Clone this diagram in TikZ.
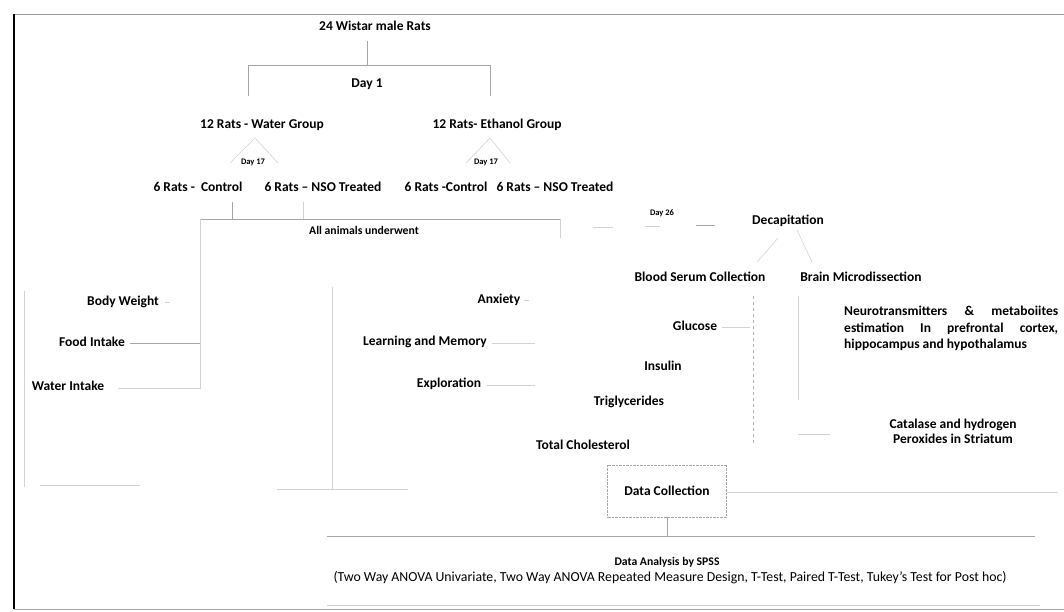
\documentclass[tikz,border=0pt]{standalone}
\usepackage{fontspec}
\setmainfont{Carlito}
\begin{document}
\begin{tikzpicture}[x=1pt,y=-1pt,
	lbl/.style={font=\bfseries\fontsize{13.5}{15}\selectfont,inner sep=1pt},
	sml/.style={font=\bfseries\fontsize{8.5}{9}\selectfont,inner sep=1pt},
	mid/.style={font=\bfseries\fontsize{11.7}{13}\selectfont,inner sep=1pt},
	ln/.style={gray!70,line width=0.6pt},
	faint/.style={gray!35,line width=0.6pt}]
	\useasboundingbox (0,0) rectangle (1064,611);
	%边框
	\draw [gray!80,line width=0.8pt] (1064,14) -- (14,14);
	\draw [line width=1.3pt] (14,14) -- (14,609);
	\draw [gray!70,line width=0.6pt] (14,609) -- (1064,609);
	%节点
	\node[lbl] (rats) at (375,26) {24 Wistar male Rats};
	\node[lbl] (day1) at (367,84) {Day 1};
	\node[lbl] (water) at (262,125) {12 Rats - Water Group};
	\node[lbl] (ethanol) at (497,125) {12 Rats- Ethanol Group};
	\node[sml] (wday) at (253,162) {Day 17};
	\node[sml] (eday) at (486,162) {Day 17};
	\node[lbl] (wctrl) at (198,187) {6 Rats -~ Control};
	\node[lbl] (wnso) at (323,187) {6 Rats -- NSO Treated};
	\node[lbl] (ectrl) at (446,187) {6 Rats -Control};
	\node[lbl] (enso) at (555,187) {6 Rats -- NSO Treated};
	\node[mid] (all) at (364,230) {All animals underwent};
	\node[sml] (day26) at (662,213) {Day 26};
	\node[lbl] (decap) at (788,221) {Decapitation};
	\node[lbl] (blood) at (700,277) {Blood Serum Collection};
	\node[lbl] (brain) at (861,277) {Brain Microdissection};
	\node[lbl] (bw) at (123,302) {Body Weight};
	\node[lbl] (food) at (92,342) {Food Intake};
	\node[lbl] (waterin) at (68,386) {Water Intake};
	\node[lbl] (anx) at (499,300) {Anxiety};
	\node[lbl] (learn) at (425,342) {Learning and Memory};
	\node[lbl] (explo) at (449,384) {Exploration};
	\node[lbl] (gluc) at (695,326) {Glucose};
	\node[lbl] (ins) at (663,366) {Insulin};
	\node[lbl] (trig) at (629,402) {Triglycerides};
	\node[lbl] (chol) at (583,445) {Total Cholesterol};
	\node[lbl,anchor=north west,text width=214pt,align=justify,
	font=\bfseries\fontsize{13.5}{16.5}\selectfont] (neuro) at (843,305)
	{Neurotransmitters \hfill\& \hfill metaboiites\\estimation \hfill In \hfill prefrontal \hfill cortex,\\hippocampus and hypothalamus};
	\node[lbl,align=center,font=\bfseries\fontsize{13.5}{15}\selectfont] (cat) at (953,431)
	{Catalase and hydrogen\\Peroxides in Striatum};
	\node[lbl,draw=gray!70,densely dotted,minimum width=119pt,minimum height=52pt] (collect) at (667,491)
	{Data Collection};
	\node[mid] (analysis) at (667,562) {Data Analysis by SPSS};
	\node[font=\fontsize{13.8}{15}\selectfont,inner sep=1pt] (tests) at (670,578)
	{(Two Way ANOVA Univariate, Two Way ANOVA Repeated Measure Design, T-Test, Paired T-Test, Tukey's Test for Post hoc)};
	%坐标
	\coordinate (split) at (367,65);
	\coordinate (wtop) at (255,138);
	\coordinate (etop) at (490,138);
	\coordinate (join) at (232,219);
	\coordinate (bodyx) at (200,343);
	\coordinate (testx) at (667,536);
	%线
	\draw [ln] (rats) ++(-8,15) -- (split);
	\draw [ln] (248,96) -- (248,65) -- (490,65) -- (490,96);
	\draw [faint] (wtop) -- (230,163) (wtop) -- (278,163);
	\draw [faint] (etop) -- (466,163) (etop) -- (510,163);
	\draw [ln] (232,202) -- (join);
	\draw [faint] (303,202) -- (303,219);
	\draw [ln] (200,219) -- (560,219);
	\draw [faint] (560,219) -- (560,238);
	\draw [faint] (593,227) -- (613,227) (645,226) -- (660,226);
	\draw [ln] (696,225) -- (715,225);
	\draw [faint] (200,219) -- (200,388) -- (118,388);
	\draw [ln] (130,343) -- (bodyx);
	\draw [faint] (165,302) -- (170,302);
	\draw [faint] (24,291) -- (24,487) (40,485) -- (140,485);
	\draw [faint] (332,287) -- (332,489) (277,489) -- (408,489);
	\draw [faint] (524,300) -- (529,300);
	\draw [faint] (492,343) -- (535,343);
	\draw [faint] (487,385) -- (535,385);
	\draw [faint] (778,238) -- (757,262) (797,230) -- (812,262);
	\draw [gray!60,dashed,line width=0.5pt] (753,296) -- (753,446);
	\draw [faint] (722,327) -- (750,327);
	\draw [faint] (798,296) -- (798,400) (798,434) -- (830,434);
	\draw [faint] (727,492) -- (1058,492);
	\draw [ln] (collect) -- (testx);
	\draw [ln] (327,536) -- (1035,536);
	\draw [faint] (327,605) -- (1040,605);
\end{tikzpicture}
\end{document}
